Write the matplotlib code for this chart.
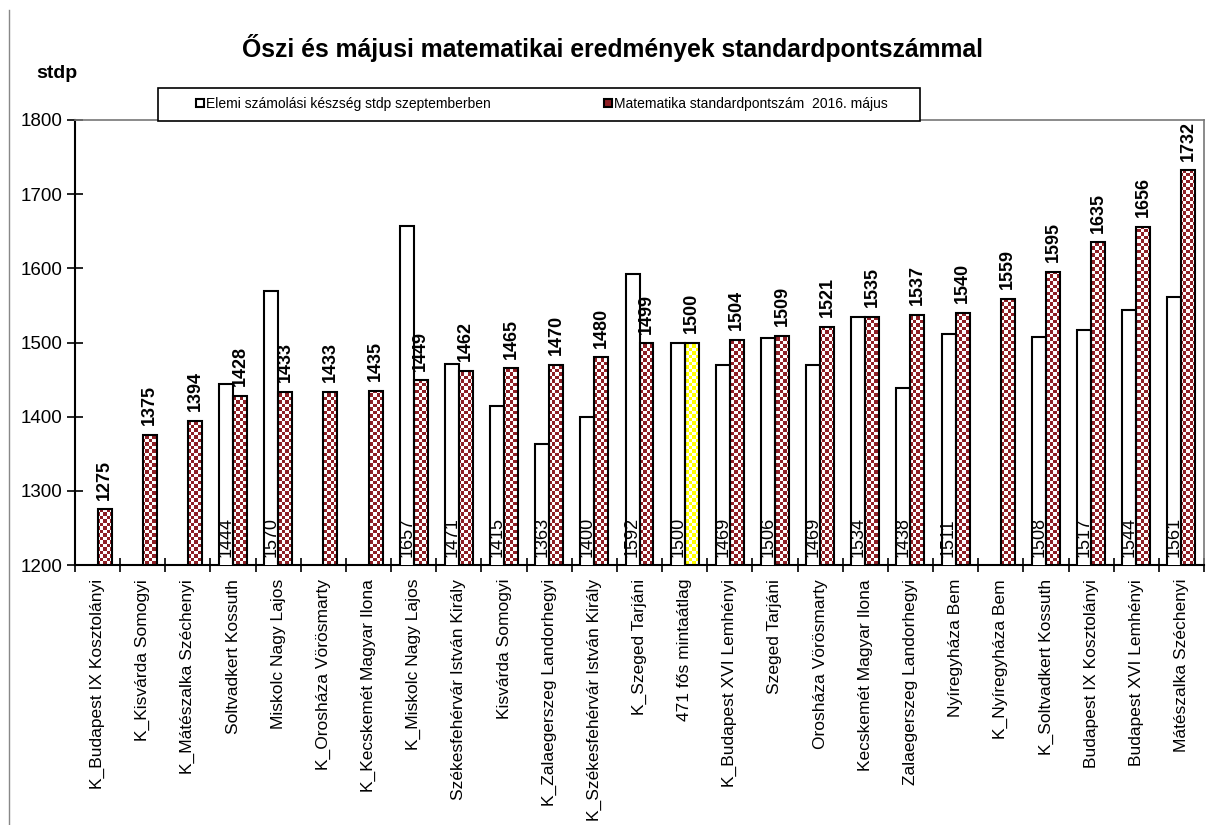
import numpy as np
import matplotlib
matplotlib.use("Agg")
import matplotlib.pyplot as plt
from matplotlib.colors import ListedColormap
from matplotlib.patches import Patch, PathPatch, Rectangle
from matplotlib.path import Path
from matplotlib.lines import Line2D

plt.rcParams['font.family'] = ['Liberation Sans', 'DejaVu Sans']

# Data
schools = ['K_Budapest IX Kosztolányi', 'K_Kisvárda Somogyi', 'K_Mátészalka Széchenyi',
           'Soltvadkert Kossuth', 'Miskolc Nagy Lajos', 'K_Orosháza Vörösmarty',
           'K_Kecskemét Magyar Ilona', 'K_Miskolc Nagy Lajos', 'Székesfehérvár István Király',
           'Kisvárda Somogyi', 'K_Zalaegerszeg Landorhegyi', 'K_Székesfehérvár István Király',
           'K_Szeged Tarjáni', '471 fős mintaátlag', 'K_Budapest XVI Lemhényi',
           'Szeged Tarjáni', 'Orosháza Vörösmarty', 'Kecskemét Magyar Ilona',
           'Zalaegerszeg Landorhegyi', 'Nyíregyháza Bem', 'K_Nyíregyháza Bem',
           'K_Soltvadkert Kossuth', 'Budapest IX Kosztolányi', 'Budapest XVI Lemhényi',
           'Mátészalka Széchenyi']
sept = [np.nan, np.nan, np.nan, 1444, 1570, np.nan, np.nan, 1657, 1471, 1415, 1363, 1400,
        1592, 1500, 1469, 1506, 1469, 1534, 1438, 1511, np.nan, 1508, 1517, 1544, 1561]
may = [1275, 1375, 1394, 1428, 1433, 1433, 1435, 1449, 1462, 1465, 1470, 1480,
       1499, 1500, 1504, 1509, 1521, 1535, 1537, 1540, 1559, 1595, 1635, 1656, 1732]
highlight = '471 fős mintaátlag'

red = '#8e1f25'
fig = plt.figure(figsize=(12.07, 8.25), dpi=100)
ax = fig.add_axes([75 / 1207, 1 - 565 / 825, 1129 / 1207, 445 / 825])

x = np.arange(len(schools))
w = 0.31
sept_bars = ax.bar(x - w / 2, sept, w, facecolor='white', edgecolor='black', linewidth=1.5, zorder=3)
may_bars = ax.bar(x + w / 2, may, w, facecolor='none', edgecolor='black', linewidth=1.5, zorder=3)

ax.set_xlim(-0.5, len(schools) - 0.5)
ax.set_ylim(1200, 1800)

# checkerboard fill, clipped to the May bars
ncol, nrow = 322, 127
board = (np.add.outer(np.arange(nrow), np.arange(ncol)) % 2)
hi = schools.index(highlight)
red_paths = []
for i, b in enumerate(may_bars):
    x0, y0 = b.get_x(), b.get_y()
    verts = [(x0, y0), (x0 + b.get_width(), y0), (x0 + b.get_width(), y0 + b.get_height()),
             (x0, y0 + b.get_height()), (x0, y0)]
    p = Path(verts, [Path.MOVETO, Path.LINETO, Path.LINETO, Path.LINETO, Path.CLOSEPOLY])
    if i == hi:
        yel_path = p
    else:
        red_paths.append(p)
for paths, col in [(red_paths, red), ([yel_path], '#ffff00')]:
    clip = PathPatch(Path.make_compound_path(*paths), transform=ax.transData,
                     facecolor='none', edgecolor='none')
    ax.add_patch(clip)
    im = ax.imshow(board, cmap=ListedColormap([col, 'white']), interpolation='nearest',
                   extent=(-0.5, len(schools) - 0.5, 1200, 1800), aspect='auto', zorder=2)
    im.set_clip_path(clip)

# value labels
for xi, v in zip(x, may):
    ax.annotate(str(v), (xi + w / 2, v), xytext=(0, 7), textcoords='offset points',
                rotation=90, ha='center', va='bottom', fontsize=13, fontweight='bold')
for xi, v in zip(x, sept):
    if not np.isnan(v):
        ax.annotate(str(int(v)), (xi - w / 2, 1200), xytext=(0, 6), textcoords='offset points',
                    rotation=90, ha='center', va='bottom', fontsize=13, zorder=4)

# axes and ticks
ax.set_xticks(x)
ax.set_xticklabels(schools, rotation=90, fontsize=12.5, va='top')
ax.set_xticks(np.arange(-0.5, len(schools)), minor=True)
ax.tick_params(axis='x', which='major', length=0, pad=10)
ax.tick_params(axis='x', which='minor', length=10, direction='inout', width=1.2)
ax.set_yticks(np.arange(1200, 1801, 100))
ax.tick_params(axis='y', length=12, direction='inout', width=1.2, labelsize=13.5, pad=3)
for s in ['left', 'bottom']:
    ax.spines[s].set_linewidth(1.5)
for s in ['top', 'right']:
    ax.spines[s].set_color('#777777')
    ax.spines[s].set_linewidth(1.2)

# title, y label
fig.text(613 / 1207, 0.942, 'Őszi és májusi matematikai eredmények standardpontszámmal',
         ha='center', va='center', fontsize=17.8, fontweight='bold')
fig.text(57 / 1207, 1 - 73 / 825, 'stdp', ha='center', va='center', fontsize=14, fontweight='bold')

# legend
fig.patches.append(Rectangle((158 / 1207, 1 - 121 / 825), 762 / 1207, 33 / 825,
                             transform=fig.transFigure, facecolor='white',
                             edgecolor='black', linewidth=1.2, zorder=5))
handles = [Patch(facecolor='white', edgecolor='black', linewidth=1.5),
           Patch(facecolor=red, edgecolor='black', linewidth=1.5)]
fig.legend(handles, ['Elemi számolási készség stdp szeptemberben',
                     'Matematika standardpontszám  2016. május'],
           loc='center', bbox_to_anchor=(542 / 1207, 1 - 104 / 825), ncol=2, frameon=False,
           fontsize=10, handlelength=0.55, handleheight=0.55, handletextpad=0.15,
           columnspacing=8.2)

# chart border on the left
fig.add_artist(Line2D([9 / 1207, 9 / 1207], [0, 1 - 10 / 825], color='#888888', linewidth=1))

fig.savefig('out.png', dpi=100)
